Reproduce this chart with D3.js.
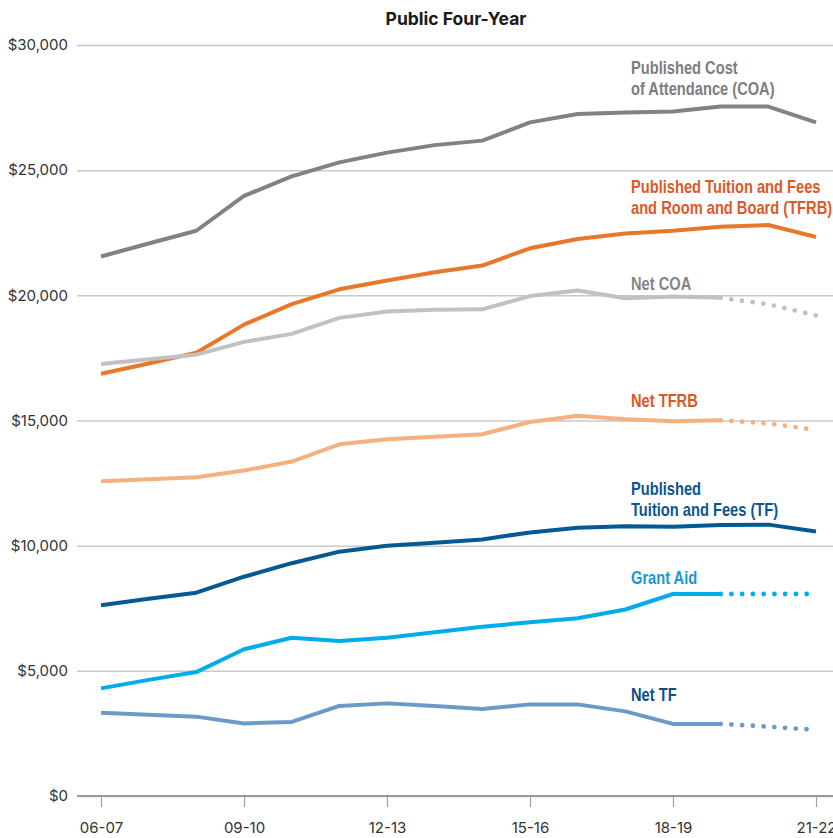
<!DOCTYPE html>
<html>
<head>
<meta charset="utf-8">
<script src="https://cdn.jsdelivr.net/npm/d3@7"></script>
<style>
  html, body { margin: 0; padding: 0; background: #fff; }
  svg { display: block; }
  .lbl { font-family: "Liberation Sans", Arial, sans-serif; font-weight: bold; font-size: 18px; }
</style>
</head>
<body>
<svg id="chart" width="833" height="838"></svg>
<script>
// ---- data ----
const years = ["06-07","07-08","08-09","09-10","10-11","11-12","12-13","13-14","14-15","15-16","16-17","17-18","18-19","19-20","20-21","21-22"];
const tickLabels = ["06-07","09-10","12-13","15-16","18-19","21-22"];
const yTicks = [0, 5000, 10000, 15000, 20000, 25000, 30000];

const coa     = [21550,22070,22580,23970,24750,25310,25700,26000,26180,26910,27240,27300,27340,27540,27540,26910];
const tfrb    = [16870,17280,17710,18830,19650,20240,20590,20920,21190,21880,22250,22470,22580,22740,22810,22330];
const netCoa  = [17260,17450,17630,18140,18460,19100,19350,19420,19440,19970,20190,19880,19950,19900,19640,19200];
const netTfrb = [12570,12650,12730,13000,13360,14050,14250,14350,14450,14940,15190,15050,14970,15010,14880,14620];
const tf      = [7620,7880,8120,8760,9300,9760,10000,10120,10250,10530,10720,10780,10760,10830,10840,10570];
const grant   = [4300,4640,4950,5860,6320,6190,6320,6540,6760,6940,7100,7450,8070,8070,8070,8070];
const netTf   = [3330,3250,3170,2900,2960,3600,3700,3600,3480,3660,3660,3380,2880,2880,2770,2640];

const seriesNames = ["Published Cost of Attendance (COA)","Published Tuition and Fees and Room and Board (TFRB)","Net COA","Net TFRB","Published Tuition and Fees (TF)","Grant Aid","Net TF"];
const estimatedFrom = "19-20"; // estimates (dotted) after this year

// ---- layout / style ----
const series = [
  {name: seriesNames[0], values: coa,     color: "#828285", labelColor: "#7d7d80", lines: ["Published Cost", "of Attendance (COA)"], ly: 74, dotted: false},
  {name: seriesNames[1], values: tfrb,    color: "#e8772a", labelColor: "#dc5a27", lines: ["Published Tuition and Fees", "and Room and Board (TFRB)"], ly: 193, dotted: false},
  {name: seriesNames[2], values: netCoa,  color: "#c1c1c4", labelColor: "#858588", lines: ["Net COA"], ly: 290, dotted: true},
  {name: seriesNames[3], values: netTfrb, color: "#f4b17f", labelColor: "#d9582a", lines: ["Net TFRB"], ly: 407, dotted: true},
  {name: seriesNames[4], values: tf,      color: "#035a93", labelColor: "#0b5690", lines: ["Published", "Tuition and Fees (TF)"], ly: 495, dotted: false},
  {name: seriesNames[5], values: grant,   color: "#00acec", labelColor: "#1a97d4", lines: ["Grant Aid"], ly: 584, dotted: true},
  {name: seriesNames[6], values: netTf,   color: "#6b9ac6", labelColor: "#0f4d85", lines: ["Net TF"], ly: 701, dotted: true}
];

const svg = d3.select("#chart");
const x = d3.scalePoint().domain(years).range([101, 816]);
const y = d3.scaleLinear().domain([0, 30000]).range([796, 45]);

const axisFont = "Inter, 'Liberation Sans', Arial, sans-serif";

// title
svg.append("text")
  .attr("x", 456).attr("y", 25)
  .attr("text-anchor", "middle")
  .attr("font-family", axisFont)
  .attr("font-weight", "bold")
  .attr("font-size", 17.5)
  .attr("fill", "#1a1a1a")
  .text("Public Four-Year");

// y axis with gridlines
const yAxis = svg.append("g")
  .attr("transform", "translate(77,0)")
  .call(d3.axisLeft(y).tickValues(yTicks)
    .tickFormat(d => "$" + d3.format(",")(d))
    .tickSize(-(833 - 77)).tickPadding(9));
yAxis.select(".domain").remove();
yAxis.selectAll(".tick line").attr("stroke", "#c8c8c8").attr("stroke-width", 1.5);
yAxis.selectAll(".tick text")
  .attr("font-family", axisFont)
  .attr("font-size", 15).attr("fill", "#333");

// x axis
const xAxis = svg.append("g")
  .attr("transform", "translate(0,796)")
  .call(d3.axisBottom(x).tickValues(tickLabels).tickSize(11).tickPadding(15));
xAxis.select(".domain").remove();
xAxis.selectAll(".tick line").attr("stroke", "#a0a0a0").attr("stroke-width", 1.2);
xAxis.selectAll(".tick text")
  .attr("font-family", axisFont)
  .attr("font-size", 15).attr("fill", "#333");

// baseline
svg.append("line")
  .attr("x1", 77).attr("x2", 833)
  .attr("y1", y(0)).attr("y2", y(0))
  .attr("stroke", "#9a9a9a").attr("stroke-width", 2);

// lines
const line = d3.line().x(d => x(d.year)).y(d => y(d.value));
const splitIdx = years.indexOf(estimatedFrom);

series.forEach(s => {
  const pts = s.values.map((v, i) => ({year: years[i], value: v}));
  const solid = s.dotted ? pts.slice(0, splitIdx + 1) : pts;
  svg.append("path")
    .datum(solid)
    .attr("fill", "none")
    .attr("stroke", s.color)
    .attr("stroke-width", 4)
    .attr("stroke-linejoin", "round")
    .attr("d", line);
  if (s.dotted) {
    svg.append("path")
      .datum(pts.slice(splitIdx))
      .attr("fill", "none")
      .attr("stroke", s.color)
      .attr("stroke-width", 4.8)
      .attr("stroke-linecap", "round")
      .attr("stroke-dasharray", "0,10.75")
      .attr("d", line);
  }
});

// labels (condensed bold: horizontally compressed real text)
series.forEach(s => {
  const g = svg.append("g")
    .attr("transform", `translate(631,${s.ly}) scale(0.815,1)`);
  const t = g.append("text")
    .attr("class", "lbl")
    .attr("x", 0).attr("y", 0)
    .attr("fill", s.labelColor);
  s.lines.forEach((ln, i) => {
    t.append("tspan").attr("x", 0).attr("dy", i === 0 ? 0 : 21.5).text(ln);
  });
});
</script>
</body>
</html>
